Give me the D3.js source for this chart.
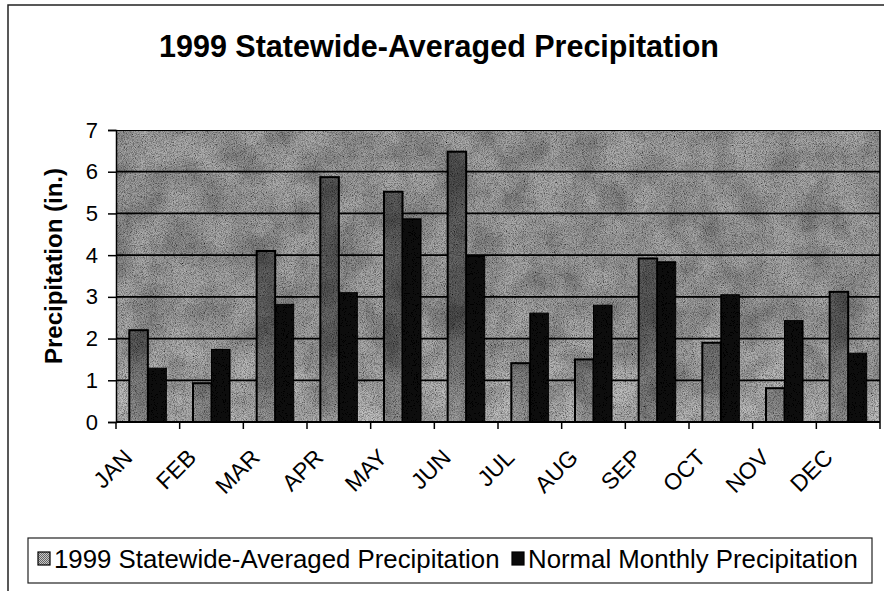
<!DOCTYPE html>
<html>
<head>
<meta charset="utf-8">
<script src="https://cdn.jsdelivr.net/npm/d3@7"></script>
<style>
  html, body { margin: 0; padding: 0; background: #fff; }
  svg { display: block; font-family: 'Liberation Sans', Arial, sans-serif; }
</style>
</head>
<body>
<svg id="chart" width="884" height="591"></svg>
<script>
// data
const months = ['JAN', 'FEB', 'MAR', 'APR', 'MAY', 'JUN', 'JUL', 'AUG', 'SEP', 'OCT', 'NOV', 'DEC'];
const seriesNames = ['1999 Statewide-Averaged Precipitation', 'Normal Monthly Precipitation'];
const precip1999 = [2.2, 0.93, 4.1, 5.87, 5.52, 6.48, 1.41, 1.5, 3.92, 1.9, 0.81, 3.12];
const precipNormal = [1.29, 1.74, 2.82, 3.1, 4.87, 3.98, 2.61, 2.8, 3.84, 3.05, 2.43, 1.65];
const yTicks = [0, 1, 2, 3, 4, 5, 6, 7];

const svg = d3.select('#chart');
const plot = { left: 116, right: 880, top: 130, bottom: 422 };

// outer frame (scan edge)
svg.append('rect')
  .attr('x', 8).attr('y', 5).attr('width', 890).attr('height', 600)
  .attr('fill', 'none').attr('stroke', '#222').attr('stroke-width', 1.5);

const defs = svg.append('defs');

// mottled print texture
const filt = defs.append('filter').attr('id', 'grain')
  .attr('x', 0).attr('y', 0).attr('width', '100%').attr('height', '100%');
filt.append('feTurbulence').attr('type', 'fractalNoise').attr('baseFrequency', 1.1)
  .attr('numOctaves', 2).attr('seed', 4).attr('result', 'fine');
filt.append('feColorMatrix').attr('in', 'fine').attr('type', 'matrix')
  .attr('values', '0 0 0 0 0  0 0 0 0 0  0 0 0 0 0  1.8 0 0 0 -0.65').attr('result', 'fineA');
filt.append('feTurbulence').attr('type', 'fractalNoise').attr('baseFrequency', 0.03)
  .attr('numOctaves', 3).attr('seed', 9).attr('result', 'coarse');
filt.append('feColorMatrix').attr('in', 'coarse').attr('type', 'matrix')
  .attr('values', '0 0 0 0 0  0 0 0 0 0  0 0 0 0 0  0.9 0 0 0 -0.28').attr('result', 'coarseA');
const fm = filt.append('feMerge').attr('result', 'merged');
fm.append('feMergeNode').attr('in', 'SourceGraphic');
fm.append('feMergeNode').attr('in', 'coarseA');
fm.append('feMergeNode').attr('in', 'fineA');
filt.append('feComposite').attr('in', 'merged').attr('in2', 'SourceAlpha').attr('operator', 'in');

const bgGrad = defs.append('linearGradient').attr('id', 'bgGrad')
  .attr('gradientUnits', 'userSpaceOnUse')
  .attr('x1', 0).attr('y1', plot.top).attr('x2', 0).attr('y2', plot.bottom);
bgGrad.append('stop').attr('offset', 0).attr('stop-color', '#adadad');
bgGrad.append('stop').attr('offset', 0.6).attr('stop-color', '#ababab');
bgGrad.append('stop').attr('offset', 1).attr('stop-color', '#c4c4c4');

const barGrad = defs.append('linearGradient').attr('id', 'barGrad')
  .attr('gradientUnits', 'userSpaceOnUse')
  .attr('x1', 0).attr('y1', plot.top).attr('x2', 0).attr('y2', plot.bottom);
barGrad.append('stop').attr('offset', 0).attr('stop-color', '#606060');
barGrad.append('stop').attr('offset', 0.7).attr('stop-color', '#6a6a6a');
barGrad.append('stop').attr('offset', 1).attr('stop-color', '#a8a8a8');

const swatchPat = defs.append('pattern').attr('id', 'swatchPat')
  .attr('width', 2).attr('height', 2).attr('patternUnits', 'userSpaceOnUse');
swatchPat.append('rect').attr('width', 2).attr('height', 2).attr('fill', '#c8c8c8');
swatchPat.append('rect').attr('width', 1).attr('height', 1).attr('fill', '#666');
swatchPat.append('rect').attr('x', 1).attr('y', 1).attr('width', 1).attr('height', 1).attr('fill', '#666');

// scales
const x = d3.scaleBand().domain(months).range([plot.left, plot.right]).padding(0);
const x1 = d3.scaleBand().domain(seriesNames).range([0, x.bandwidth()])
  .paddingInner(0).paddingOuter(0.72);
const y = d3.scaleLinear().domain([0, 7]).range([plot.bottom, plot.top]);

const rows = months.map((m, i) => ({ month: m, values: [precip1999[i], precipNormal[i]] }));

// plot area with texture
const area = svg.append('g').attr('filter', 'url(#grain)');
area.append('rect')
  .attr('x', plot.left).attr('y', plot.top)
  .attr('width', plot.right - plot.left).attr('height', plot.bottom - plot.top)
  .attr('fill', 'url(#bgGrad)');

// gridlines
area.selectAll('line.grid')
  .data(yTicks.filter(d => d > 0))
  .enter().append('line')
  .attr('class', 'grid')
  .attr('x1', plot.left).attr('x2', plot.right)
  .attr('y1', d => y(d)).attr('y2', d => y(d))
  .attr('stroke', '#000').attr('stroke-width', 1.8);

// bars
const groups = area.selectAll('g.month')
  .data(rows)
  .enter().append('g')
  .attr('class', 'month')
  .attr('transform', d => `translate(${x(d.month)},0)`);

groups.selectAll('rect')
  .data(d => d.values.map((v, j) => ({ key: seriesNames[j], value: v, j: j })))
  .enter().append('rect')
  .attr('x', d => x1(d.key))
  .attr('width', x1.bandwidth())
  .attr('y', d => y(d.value))
  .attr('height', d => y(0) - y(d.value))
  .attr('fill', d => d.j === 0 ? 'url(#barGrad)' : '#0a0a0a')
  .attr('stroke', '#000')
  .attr('stroke-width', d => d.j === 0 ? 2 : 1);

// right frame
svg.append('line')
  .attr('x1', plot.right).attr('x2', plot.right)
  .attr('y1', plot.top).attr('y2', plot.bottom)
  .attr('stroke', '#000').attr('stroke-width', 1.5);

// y axis
const yAxis = d3.axisLeft(y).tickValues(yTicks).tickFormat(d3.format('d'))
  .tickSize(8).tickPadding(10);
const yg = svg.append('g').attr('transform', `translate(${plot.left},0)`).call(yAxis);
yg.select('.domain').attr('stroke', '#000').attr('stroke-width', 1.5);
yg.selectAll('.tick line').attr('stroke', '#000').attr('stroke-width', 1.5);
yg.selectAll('.tick text')
  .attr('font-family', "'Liberation Sans', Arial, sans-serif")
  .attr('font-size', 22).attr('fill', '#000');

// x axis: ticks on category boundaries
const xg = svg.append('g').attr('transform', `translate(0,${plot.bottom})`);
xg.append('line')
  .attr('x1', plot.left).attr('x2', plot.right)
  .attr('stroke', '#000').attr('stroke-width', 1.8);
xg.selectAll('line.tick')
  .data(months.concat(['end']))
  .enter().append('line')
  .attr('class', 'tick')
  .attr('x1', (d, i) => i < months.length ? x(d) : plot.right)
  .attr('x2', (d, i) => i < months.length ? x(d) : plot.right)
  .attr('y1', 0).attr('y2', 7)
  .attr('stroke', '#000').attr('stroke-width', 1.5);

svg.append('g').selectAll('text')
  .data(months)
  .enter().append('text')
  .attr('transform', d => `translate(${x(d) + x.bandwidth() / 2 - 14},459) rotate(-45)`)
  .attr('text-anchor', 'end')
  .attr('font-size', 23)
  .attr('fill', '#000')
  .text(d => d);

// title
svg.append('text')
  .attr('x', 439).attr('y', 57)
  .attr('text-anchor', 'middle')
  .attr('font-size', 30.5).attr('font-weight', 'bold')
  .attr('fill', '#000')
  .text('1999 Statewide-Averaged Precipitation');

// y axis title
svg.append('text')
  .attr('transform', 'translate(62,266) rotate(-90)')
  .attr('text-anchor', 'middle')
  .attr('font-size', 24).attr('font-weight', 'bold')
  .attr('fill', '#000')
  .text('Precipitation (in.)');

// legend
const legend = svg.append('g');
legend.append('rect')
  .attr('x', 28).attr('y', 538).attr('width', 844).attr('height', 45)
  .attr('fill', '#fff').attr('stroke', '#222').attr('stroke-width', 1.2);

const legendItems = [
  { name: seriesNames[0], x: 38, fill: 'url(#swatchPat)' },
  { name: seriesNames[1], x: 512, fill: '#0a0a0a' }
];
const li = legend.selectAll('g.item')
  .data(legendItems)
  .enter().append('g')
  .attr('class', 'item')
  .attr('transform', d => `translate(${d.x},0)`);
li.append('rect')
  .attr('x', 0).attr('y', 552).attr('width', 12).attr('height', 13)
  .attr('fill', d => d.fill).attr('stroke', '#000').attr('stroke-width', 1.2);
li.append('text')
  .attr('x', 16).attr('y', 568)
  .attr('font-size', 25.8).attr('fill', '#000')
  .text(d => d.name);
</script>
</body>
</html>
